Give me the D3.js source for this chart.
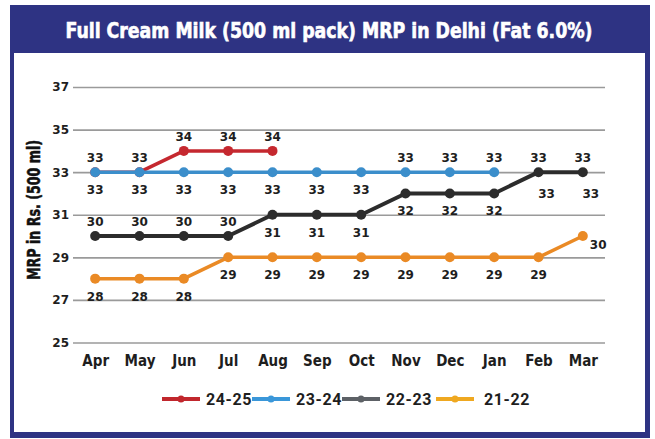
<!DOCTYPE html>
<html>
<head>
<meta charset="utf-8">
<script src="https://cdn.jsdelivr.net/npm/d3@7"></script>
<style>
  body { margin: 0; background: #fff; }
  svg { display: block; }
  .label { font-family: 'DejaVu Sans', sans-serif; font-weight: bold; font-size: 12px; fill: #1e1e1e; }
</style>
</head>
<body>
<svg id="chart" width="655" height="439"></svg>
<script>
const months = ['Apr', 'May', 'Jun', 'Jul', 'Aug', 'Sep', 'Oct', 'Nov', 'Dec', 'Jan', 'Feb', 'Mar'];
const series_names = ['24-25', '23-24', '22-23', '21-22'];
const mrp_24_25 = [33, 33, 34, 34, 34];
const mrp_23_24 = [33, 33, 33, 33, 33, 33, 33, 33, 33, 33];
const mrp_22_23 = [30, 30, 30, 30, 31, 31, 31, 32, 32, 32, 33, 33];
const mrp_21_22 = [28, 28, 28, 29, 29, 29, 29, 29, 29, 29, 29, 30];
const y_ticks = [25, 27, 29, 31, 33, 35, 37];

// which side of the point the value label sits on
const side_24_25 = ['above', 'above', 'above', 'above', 'above'];
const side_23_24 = ['below', 'below', 'below', 'below', 'below', 'below', 'below', 'above', 'above', 'above'];
const side_22_23 = ['above', 'above', 'above', 'above', 'below', 'below', 'below', 'below', 'below', 'below', 'both', 'both'];
const side_21_22 = ['below', 'below', 'below', 'below', 'below', 'below', 'below', 'below', 'below', 'below', 'below', 'right'];

const line_colors = ['#c5282f', '#3b8ecb', '#2c2c2c', '#ea8a25'];
const legend_colors = ['#c1272d', '#3a97d9', '#5d6166', '#efa820'];

const svg = d3.select('#chart');
const navy = '#2e3383';

// frame + title band
svg.append('rect').attr('x', 10).attr('y', 5).attr('width', 640).attr('height', 433).attr('fill', navy);
svg.append('rect').attr('x', 14).attr('y', 53).attr('width', 631).attr('height', 379).attr('fill', '#fff');

svg.append('text')
  .attr('x', 329).attr('y', 38)
  .attr('text-anchor', 'middle')
  .attr('fill', '#fff')
  .attr('stroke', '#fff')
  .attr('stroke-width', 0.6)
  .attr('font-family', "'Liberation Sans Narrow', 'DejaVu Sans Condensed', sans-serif")
  .attr('font-weight', 'bold')
  .attr('font-size', 21)
  .attr('textLength', 527)
  .attr('lengthAdjust', 'spacingAndGlyphs')
  .text('Full Cream Milk (500 ml pack) MRP in Delhi (Fat 6.0%)');

const x = d3.scalePoint().domain(months).range([73, 605]).padding(0.5);
const y = d3.scaleLinear().domain([25, 37]).range([342.5, 87]);

// y axis with gridlines
const y_axis = svg.append('g')
  .attr('transform', 'translate(73,0)')
  .call(d3.axisLeft(y).tickValues(y_ticks).tickSize(-532).tickPadding(4));
y_axis.select('.domain').remove();
y_axis.selectAll('.tick line').attr('stroke', '#9a9a9a').attr('stroke-width', 1.6);
y_axis.selectAll('.tick text')
  .attr('fill', '#1e1e1e')
  .attr('font-family', "'DejaVu Sans', sans-serif")
  .attr('font-weight', 'bold')
  .attr('font-size', 12);

// x axis, labels only
const x_axis = svg.append('g')
  .attr('transform', 'translate(0,342.5)')
  .call(d3.axisBottom(x).tickSize(0));
x_axis.select('.domain').remove();
x_axis.selectAll('.tick text')
  .attr('y', 23.5).attr('dy', null)
  .attr('fill', '#1e1e1e')
  .attr('font-family', "'DejaVu Sans Condensed', 'DejaVu Sans', sans-serif")
  .attr('font-stretch', 'condensed')
  .attr('font-weight', 'bold')
  .attr('font-size', 15);

svg.append('text')
  .attr('transform', 'translate(40,210) rotate(-90)')
  .attr('text-anchor', 'middle')
  .attr('fill', '#111')
  .attr('stroke', '#111')
  .attr('stroke-width', 0.5)
  .attr('font-family', "'Liberation Sans Narrow', 'DejaVu Sans Condensed', sans-serif")
  .attr('font-weight', 'bold')
  .attr('font-size', 17)
  .attr('textLength', 140)
  .attr('lengthAdjust', 'spacingAndGlyphs')
  .text('MRP in Rs. (500 ml)');

const series = [
  { name: series_names[0], values: mrp_24_25, sides: side_24_25 },
  { name: series_names[1], values: mrp_23_24, sides: side_23_24 },
  { name: series_names[2], values: mrp_22_23, sides: side_22_23 },
  { name: series_names[3], values: mrp_21_22, sides: side_21_22 }
];
series.forEach((s, i) => {
  s.color = line_colors[i];
  s.points = s.values.map((v, j) => ({ month: months[j], value: v, side: s.sides[j] }));
});

const line = d3.line().x((d) => x(d.month)).y((d) => y(d.value));

series.forEach((s, i) => {
  const g = svg.append('g').attr('class', 'series');
  g.append('path')
    .attr('d', line(s.points))
    .attr('fill', 'none')
    .attr('stroke', s.color)
    .attr('stroke-width', i === 2 ? 4 : 3.5)
    .attr('stroke-linejoin', 'round');
  g.selectAll('circle')
    .data(s.points)
    .enter()
    .append('circle')
    .attr('cx', (d) => x(d.month))
    .attr('cy', (d) => y(d.value))
    .attr('r', 5)
    .attr('fill', s.color);
});

// value labels
const label_spots = [];
series.forEach((s) => {
  s.points.forEach((p) => {
    const px = x(p.month), py = y(p.value);
    if (p.side === 'above' || p.side === 'both')
      label_spots.push({ x: px, y: py - 10, text: p.value, anchor: 'middle' });
    if (p.side === 'below')
      label_spots.push({ x: px, y: py + 22, text: p.value, anchor: 'middle' });
    if (p.side === 'both')
      label_spots.push({ x: px + 8, y: py + 26, text: p.value, anchor: 'middle' });
    if (p.side === 'right')
      label_spots.push({ x: px + 7, y: py + 13, text: p.value, anchor: 'start' });
  });
});

svg.selectAll('.label')
  .data(label_spots)
  .enter()
  .append('text')
  .attr('class', 'label')
  .attr('x', (d) => d.x)
  .attr('y', (d) => d.y)
  .attr('text-anchor', (d) => d.anchor)
  .text((d) => d.text);

// legend
const legend = svg.append('g').attr('transform', 'translate(162,399)');
const item = legend.selectAll('.legend-item')
  .data(series_names)
  .enter()
  .append('g')
  .attr('class', 'legend-item')
  .attr('transform', (d, i) => `translate(${i * 90 + (i === 3 ? 4 : 0)},0)`);
item.append('line')
  .attr('x1', 0).attr('x2', 38)
  .attr('stroke', (d, i) => legend_colors[i])
  .attr('stroke-width', 4);
item.append('circle')
  .attr('cx', 19).attr('r', 3.5)
  .attr('fill', (d, i) => legend_colors[i]);
item.append('text')
  .attr('x', (d, i) => i === 3 ? 48 : 44)
  .attr('y', 6)
  .attr('fill', '#1e1e1e')
  .attr('font-family', 'Roboto, sans-serif')
  .attr('font-weight', 'bold')
  .attr('font-size', 16)
  .attr('letter-spacing', 0.6)
  .text((d) => d);
</script>
</body>
</html>
